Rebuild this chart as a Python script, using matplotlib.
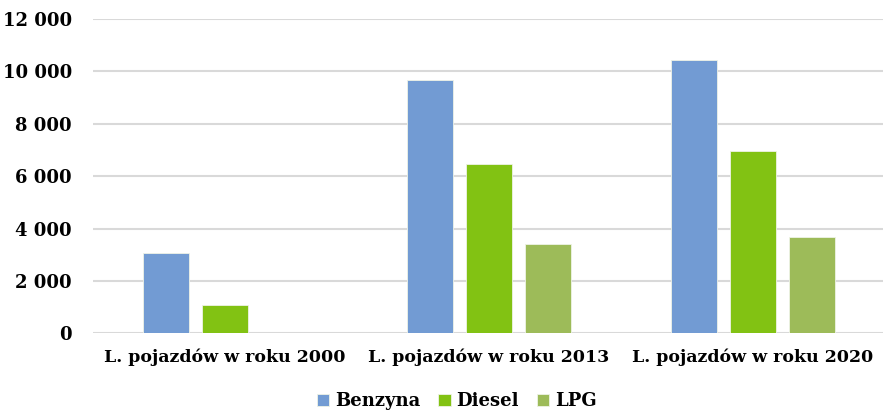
import matplotlib.pyplot as plt
import numpy as np
from matplotlib.ticker import FuncFormatter

categories = ["L. pojazdów w roku 2000", "L. pojazdów w roku 2013", "L. pojazdów w roku 2020"]
series_names = ["Benzyna", "Diesel", "LPG"]
benzyna = [3090, 9690, 10440]
diesel = [1080, 6480, 6970]
lpg = [0, 3420, 3690]
colors = ["#729BD3", "#82C213", "#9DBB59"]

plt.rcParams['font.family'] = ['DejaVu Serif']
plt.rcParams['font.weight'] = 'bold'

fig = plt.figure(figsize=(8.83, 4.13), dpi=100)
ax = fig.add_axes([0.105, 0.1925, 0.897, 0.7615])

x = np.arange(len(categories))
step = 0.2235
width = 0.174
for i, (name, vals, c) in enumerate(zip(series_names, [benzyna, diesel, lpg], colors)):
	ax.bar(x + (i - 1) * step, vals, width, color=c, label=name, zorder=3,
		edgecolor="#eef3e6", linewidth=0.6)

ax.set_xlim(-0.5, 2.5)
ax.set_ylim(0, 12000)
ax.set_yticks(np.arange(0, 12001, 2000))
ax.yaxis.set_major_formatter(FuncFormatter(lambda v, p: "{:,.0f}".format(v).replace(",", " ")))
ax.set_xticks(x)
ax.set_xticklabels(categories)
ax.grid(axis="y", color="#D9D9D9", linewidth=1.5, zorder=0)
for s in ["top", "right", "left", "bottom"]:
	ax.spines[s].set_visible(False)
ax.tick_params(axis="both", length=0, labelsize=12.5, colors="black")
ax.tick_params(axis="y", pad=15, labelsize=13)
ax.tick_params(axis="x", pad=11)

ax.legend(loc="center", bbox_to_anchor=(0.517, 0.028), bbox_transform=fig.transFigure,
	ncol=3, frameon=False, fontsize=13, handlelength=0.7, handleheight=0.7,
	handletextpad=0.3, columnspacing=1.0)

fig.savefig("out.png", dpi=100)
